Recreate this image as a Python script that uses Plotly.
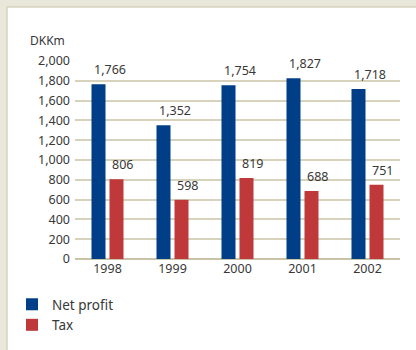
import plotly.graph_objects as go

# Net profit and tax, DKK million
years = ["1998", "1999", "2000", "2001", "2002"]
net_profit = [1766, 1352, 1754, 1827, 1718]
tax = [806, 598, 819, 688, 751]
y_ticks = list(range(0, 2001, 200))

BLUE = "#003f87"
RED = "#c0393a"
TEXT = "#383838"
FONT = "Noto Sans"

W, H = 416, 350
ML, MR, MT, MB = 75, 16, 61, 91
PW, PH = W - ML - MR, H - MT - MB

fig = go.Figure()
fig.add_trace(go.Bar(name="Net profit", x=years, y=net_profit,
                     marker=dict(color=BLUE, line=dict(width=0))))
fig.add_trace(go.Bar(name="Tax", x=years, y=tax,
                     marker=dict(color=RED, line=dict(width=0))))

# value labels sit above each bar, aligned with its left edge
cat_px = PW / len(years)
offsets = {"np": -16 / cat_px, "tax": 2 / cat_px}
annotations = []
for i, (a, b) in enumerate(zip(net_profit, tax)):
    for val, off in ((a, offsets["np"]), (b, offsets["tax"])):
        annotations.append(dict(
            x=i + off, y=val, xref="x", yref="y", text=f"{val:,}",
            showarrow=False, xanchor="left", yanchor="bottom", yshift=4,
            font=dict(family=FONT, size=12.5, color=TEXT)))

def px_x(p):
    return (p - ML) / PW

def px_y(q):
    return (H - MB - q) / PH

annotations.append(dict(
    x=px_x(28), y=px_y(40), xref="paper", yref="paper", text="DKKm",
    showarrow=False, xanchor="left", yanchor="middle",
    font=dict(family=FONT, size=12, color=TEXT)))

# cream frame along the top and left edges
shapes = [
    dict(type="rect", xref="paper", yref="paper", x0=px_x(0), x1=px_x(W),
         y0=px_y(0), y1=px_y(7), fillcolor="#e9e6da", line=dict(width=0),
         layer="below"),
    dict(type="rect", xref="paper", yref="paper", x0=px_x(0), x1=px_x(7),
         y0=px_y(0), y1=px_y(H), fillcolor="#e9e6da", line=dict(width=0),
         layer="below"),
    dict(type="line", xref="paper", yref="paper", x0=px_x(7), x1=px_x(W),
         y0=px_y(7), y1=px_y(7), line=dict(color="#d6d2bd", width=1.5),
         layer="below"),
    dict(type="line", xref="paper", yref="paper", x0=px_x(7), x1=px_x(7),
         y0=px_y(7), y1=px_y(H), line=dict(color="#d6d2bd", width=1.5),
         layer="below"),
]

fig.update_layout(
    width=W, height=H,
    margin=dict(l=ML, r=MR, t=MT, b=MB, pad=0, autoexpand=False),
    paper_bgcolor="white", plot_bgcolor="white",
    barmode="group", bargap=0.446, bargroupgap=0.222,
    font=dict(family=FONT, size=12, color=TEXT),
    showlegend=True,
    legend=dict(xref="container", yref="container",
                x=12 / W, y=1 - 289 / H, xanchor="left", yanchor="top",
                orientation="v", bgcolor="rgba(0,0,0,0)",
                font=dict(family=FONT, size=13.5, color=TEXT),
                tracegroupgap=0, itemclick=False, itemwidth=30),
    annotations=annotations,
    shapes=shapes,
    xaxis=dict(type="category", showgrid=False, zeroline=False,
               showline=False, ticks="", fixedrange=True,
               tickfont=dict(family=FONT, size=12.5, color=TEXT)),
    yaxis=dict(range=[0, 2000], tickvals=y_ticks, tickformat=",",
               showgrid=True, gridcolor="#d6d2bb", gridwidth=1.5,
               zeroline=True, zerolinecolor="#c9c4a8", zerolinewidth=1.5,
               showline=False, ticks="", ticklabelstandoff=4,
               fixedrange=True,
               tickfont=dict(family=FONT, size=12.5, color=TEXT)),
)

fig.write_html("out.html", config={"displayModeBar": False})
